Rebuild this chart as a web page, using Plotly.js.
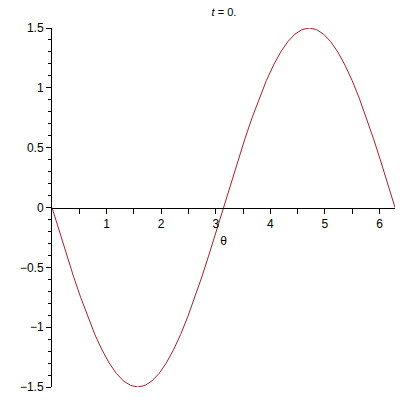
<!DOCTYPE html>
<html>
<head>
<meta charset="utf-8">
<script src="https://cdn.plot.ly/plotly-3.0.1.min.js"></script>
<style>html,body{margin:0;padding:0;background:#fff;}#plot{width:400px;height:400px;}</style>
</head>
<body>
<div id="plot"></div>
<script>
var thetaValues = [0, 0.131, 0.262, 0.393, 0.524, 0.654, 0.785, 0.916, 1.047, 1.178, 1.309, 1.440,
  1.571, 1.702, 1.833, 1.963, 2.094, 2.225, 2.356, 2.487, 2.618, 2.749, 2.880, 3.011,
  3.142, 3.272, 3.403, 3.534, 3.665, 3.796, 3.927, 4.058, 4.189, 4.320, 4.451, 4.581,
  4.712, 4.843, 4.974, 5.105, 5.236, 5.367, 5.498, 5.629, 5.760, 5.890, 6.021, 6.152, 6.283];
var curveValues = [0, -0.196, -0.388, -0.574, -0.75, -0.913, -1.061, -1.19, -1.299, -1.386, -1.449, -1.487,
  -1.5, -1.487, -1.449, -1.386, -1.299, -1.19, -1.061, -0.913, -0.75, -0.574, -0.388, -0.196,
  0, 0.196, 0.388, 0.574, 0.75, 0.913, 1.061, 1.19, 1.299, 1.386, 1.449, 1.487,
  1.5, 1.487, 1.449, 1.386, 1.299, 1.19, 1.061, 0.913, 0.75, 0.574, 0.388, 0.196, 0];
var xTickVals = [1, 2, 3, 4, 5, 6];
var xTickText = ['1', '2', '3', '4', '5', '6'];
var xMinorVals = [0.5, 1.5, 2.5, 3.5, 4.5, 5.5];
var yTickVals = [-1.5, -1, -0.5, 0, 0.5, 1, 1.5];
var yTickText = ['\u22121.5', '\u22121', '\u22120.5', '0', '0.5', '1', '1.5'];
var titleText = '<i>t</i> = 0.';
var xTitle = '\u03b8';

var font = {family: 'Liberation Sans, Arial, sans-serif', size: 12, color: '#000'};

Plotly.newPlot('plot', [{
  x: thetaValues, y: curveValues, type: 'scatter', mode: 'lines',
  line: {color: '#a82028', width: 1}, hoverinfo: 'skip'
}], {
  width: 400, height: 400,
  margin: {l: 52, r: 5, t: 28, b: 13},
  paper_bgcolor: '#fff', plot_bgcolor: '#fff',
  showlegend: false,
  font: font,
  title: {text: titleText, x: 0.56, xanchor: 'center', y: 0.97, yanchor: 'middle', font: {family: font.family, size: 11, color: '#000'}},
  xaxis: {
    range: [0, 6.2832], anchor: 'free', position: 0.5,
    showline: true, linecolor: '#000', linewidth: 1,
    showgrid: false, zeroline: false,
    tickmode: 'array', tickvals: xTickVals, ticktext: xTickText,
    ticks: 'outside', ticklen: 5, tickcolor: '#000', tickwidth: 1,
    minor: {tickmode: 'array', tickvals: xMinorVals, ticks: 'outside', ticklen: 5, tickcolor: '#000', showgrid: false},
    tickfont: font,
    title: {text: xTitle, standoff: 6, font: font}
  },
  yaxis: {
    range: [-1.5, 1.5],
    showline: true, linecolor: '#000', linewidth: 1,
    showgrid: false, zeroline: false,
    tickmode: 'array', tickvals: yTickVals, ticktext: yTickText,
    ticks: 'outside', ticklen: 5, tickcolor: '#000', tickwidth: 1,
    minor: {dtick: 0.1, tick0: 0, ticks: 'outside', ticklen: 3, tickcolor: '#000', showgrid: false},
    tickfont: font
  }
}, {staticPlot: true});
</script>
</body>
</html>
